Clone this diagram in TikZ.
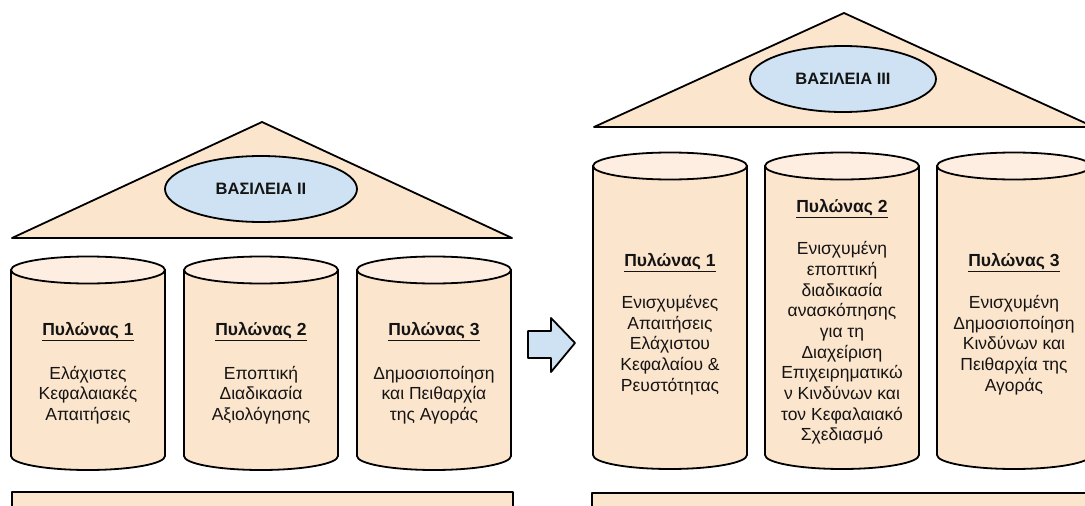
\documentclass[tikz,border=0pt]{standalone}
\usepackage{fontspec}
\setmainfont{Liberation Sans}
\usetikzlibrary{shapes.geometric}

\definecolor{peach}{HTML}{FCE5CD}
\definecolor{peachtop}{HTML}{FDEEE1}
\definecolor{sky}{HTML}{CFE2F3}
\definecolor{ink}{HTML}{141414}

\tikzset{
  outline/.style={draw=black, line width=1.8pt, line join=round},
  roofbadge/.style={ellipse, outline, fill=sky, inner sep=0pt, text=ink,
    font=\fontsize{16.5}{19}\selectfont\bfseries},
  pillarhead/.style={inner sep=0pt, text=ink, font=\fontsize{17.5}{20.5}\selectfont\bfseries},
  pillartext/.style={inner sep=0pt, align=center, text=ink, font=\fontsize{17.5}{20.7}\selectfont},
}

% a pillar: left x, right x, y of top rim centre, y of bottom rim centre
\newcommand\drawpillar[4]{%
  \pgfmathsetmacro\pcx{(#1+#2)/2}%
  \pgfmathsetmacro\prx{(#2-#1)/2}%
  \filldraw[outline, fill=peach] (#1,#3) -- (#1,#4)
    arc[start angle=180, end angle=360, x radius=\prx pt, y radius=14pt]
    -- (#2,#3) -- cycle;
  \filldraw[outline, fill=peachtop] (\pcx,#3) ellipse[x radius=\prx pt, y radius=13.5pt];
}

\begin{document}
\begin{tikzpicture}[x=1pt, y=-1pt]
  \useasboundingbox (0,0) rectangle (1085,506);
  \clip (0,0) rectangle (1085,506);

  % ---------- Basel II ----------
  \filldraw[outline, fill=peach] (262,122) -- (12,238) -- (512,238) -- cycle;
  \node[roofbadge, minimum width=192pt, minimum height=66pt] (roofA) at (261,189) {ΒΑΣΙΛΕΙΑ II};

  \drawpillar{11}{165}{270}{456}
  \drawpillar{184}{338}{270}{456}
  \drawpillar{357}{511}{270}{456}

  \node[pillarhead] (a1h) at (88,332) {\underline{Πυλώνας 1}};
  \node[pillartext] (a1t) at (88,395) {Ελάχιστες\\Κεφαλαιακές\\Απαιτήσεις};
  \node[pillarhead] (a2h) at (261,332) {\underline{Πυλώνας 2}};
  \node[pillartext] (a2t) at (261,395) {Εποπτική\\Διαδικασία\\Αξιολόγησης};
  \node[pillarhead] (a3h) at (434,332) {\underline{Πυλώνας 3}};
  \node[pillartext] (a3t) at (434,395) {Δημοσιοποίηση\\και Πειθαρχία\\της Αγοράς};

  \filldraw[outline, fill=peach] (12,492) rectangle (513,530);

  % ---------- transition arrow ----------
  \filldraw[outline, fill=sky] (528,331) -- (551,331) -- (551,318) -- (575,343)
    -- (551,372) -- (551,358) -- (528,358) -- cycle;

  % ---------- Basel III ----------
  \filldraw[outline, fill=peach] (844,13) -- (594,127) -- (1094,127) -- cycle;
  \node[roofbadge, minimum width=186pt, minimum height=66pt] (roofB) at (843,79) {ΒΑΣΙΛΕΙΑ III};

  \drawpillar{593}{747}{166}{455}
  \drawpillar{765}{919}{166}{455}
  \drawpillar{937}{1091}{166}{455}

  \node[pillarhead] (b1h) at (670,263) {\underline{Πυλώνας 1}};
  \node[pillartext] (b1t) at (670,345) {Ενισχυμένες\\Απαιτήσεις\\Ελάχιστου\\Κεφαλαίου \&\\Ρευστότητας};
  \node[pillarhead] (b2h) at (842,209) {\underline{Πυλώνας 2}};
  \node[pillartext] (b2t) at (842,343) {Ενισχυμένη\\εποπτική\\διαδικασία\\ανασκόπησης\\για τη\\Διαχείριση\\Επιχειρηματικώ\\ν Κινδύνων και\\τον Κεφαλαιακό\\Σχεδιασμό};
  \node[pillarhead] (b3h) at (1014,263) {\underline{Πυλώνας 3}};
  \node[pillartext] (b3t) at (1014,345) {Ενισχυμένη\\Δημοσιοποίηση\\Κινδύνων και\\Πειθαρχία της\\Αγοράς};

  \filldraw[outline, fill=peach] (592,493) rectangle (1100,530);
\end{tikzpicture}
\end{document}
